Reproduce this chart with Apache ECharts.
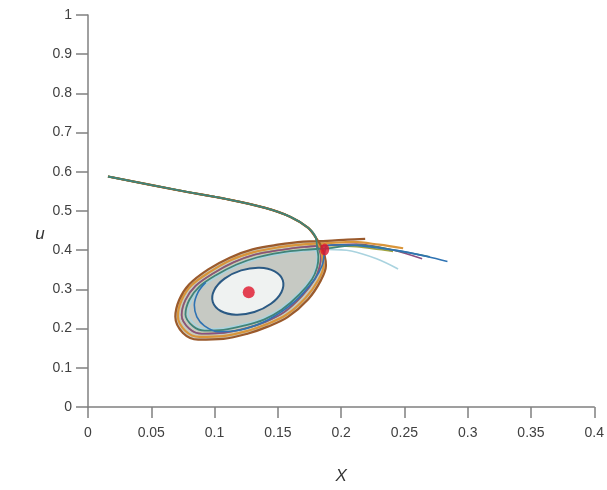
<!DOCTYPE html>
<html>
<head>
<meta charset="utf-8">
<script src="https://cdn.jsdelivr.net/npm/echarts@6/dist/echarts.min.js"></script>
<style>html,body{margin:0;padding:0;background:#fff}#c{width:607px;height:490px}</style>
</head>
<body>
<div id="c"></div>
<script>
// ---- Data ----
const xTicks = [0, 0.05, 0.1, 0.15, 0.2, 0.25, 0.3, 0.35, 0.4];
const yTicks = [0, 0.1, 0.2, 0.3, 0.4, 0.5, 0.6, 0.7, 0.8, 0.9, 1];
const xName = 'X';
const yName = 'u';

// common incoming branch (from upper left toward the saddle)
const approach = [[0.0158,0.588],[0.071,0.553],[0.110,0.530],[0.140,0.508],[0.160,0.485],[0.174,0.457],[0.180,0.432]];

// loops around the region (outer to inner)
const loop0 = [[0.184,0.412],[0.187,0.386],[0.188,0.361],[0.184,0.323],[0.174,0.275],[0.158,0.230],[0.142,0.205],[0.126,0.187],[0.107,0.174],[0.087,0.172],[0.075,0.189],[0.069,0.230],[0.072,0.273],[0.080,0.313],[0.095,0.351],[0.112,0.381],[0.130,0.402],[0.150,0.414],[0.170,0.422],[0.189,0.424]];
const loop1 = [[0.183,0.410],[0.185,0.385],[0.186,0.360],[0.182,0.324],[0.172,0.279],[0.157,0.236],[0.141,0.211],[0.126,0.194],[0.107,0.181],[0.088,0.179],[0.077,0.194],[0.071,0.232],[0.074,0.273],[0.082,0.311],[0.097,0.346],[0.113,0.375],[0.131,0.395],[0.150,0.407],[0.170,0.415],[0.189,0.418]];
const loop2 = [[0.182,0.408],[0.184,0.384],[0.183,0.358],[0.179,0.325],[0.169,0.283],[0.155,0.242],[0.140,0.217],[0.125,0.201],[0.107,0.189],[0.090,0.187],[0.080,0.200],[0.074,0.234],[0.077,0.273],[0.085,0.309],[0.099,0.341],[0.115,0.369],[0.132,0.389],[0.151,0.400],[0.170,0.408],[0.189,0.412]];
const loop3 = [[0.181,0.406],[0.182,0.383],[0.181,0.356],[0.177,0.326],[0.167,0.287],[0.153,0.248],[0.139,0.223],[0.124,0.208],[0.107,0.197],[0.092,0.195],[0.083,0.206],[0.077,0.236],[0.080,0.273],[0.088,0.307],[0.101,0.336],[0.117,0.363],[0.134,0.382],[0.152,0.394],[0.171,0.401],[0.189,0.405]];
const loop4 = [[0.180,0.404],[0.181,0.382],[0.180,0.355],[0.176,0.327],[0.166,0.289],[0.152,0.251],[0.138,0.226],[0.124,0.212],[0.107,0.201],[0.093,0.199],[0.085,0.209],[0.079,0.237],[0.082,0.273],[0.090,0.306],[0.102,0.333],[0.118,0.360],[0.135,0.379],[0.153,0.391],[0.171,0.398],[0.189,0.402]];

// outgoing ends (to the right of the saddle)
const exitBrown  = [[0.205,0.427],[0.219,0.429]];
const exitOrange = [[0.210,0.421],[0.230,0.414],[0.249,0.405]];
const exitPurple = [[0.212,0.416],[0.240,0.401],[0.264,0.378]];
const exitTeal   = [[0.213,0.413],[0.245,0.398],[0.270,0.383]];
const exitOlive  = [[0.212,0.409],[0.230,0.402],[0.241,0.397]];
const exitLight  = [[0.208,0.398],[0.228,0.378],[0.245,0.352]];

// inner spiral (blue) that leaves through the saddle
const blueSpiral = [[0.093,0.318],[0.087,0.293],[0.084,0.260],[0.086,0.230],[0.092,0.207],[0.103,0.192],[0.121,0.197],[0.142,0.222],[0.163,0.268],[0.179,0.326],[0.185,0.361],[0.187,0.394],[0.189,0.412],[0.201,0.414],[0.221,0.409],[0.245,0.399],[0.268,0.384],[0.284,0.371]];

// dark blue closed orbit around the centre
const innerOrbit = [[0.1539,0.3232],[0.1475,0.3460],[0.1356,0.3553],[0.1210,0.3485],[0.1079,0.3275],[0.0997,0.2980],[0.0986,0.2677],[0.1049,0.2449],[0.1169,0.2356],[0.1314,0.2424],[0.1445,0.2634],[0.1528,0.2929]];

// equilibria
const centrePoint = [[0.127,0.293]];
const saddlePoint = [[0.187,0.402]];

// ---- chart ----
const axisColor = '#808080';
const fontFam = 'Liberation Sans, Arial, sans-serif';
const labelStyle = {color:'#404040', fontSize:14, fontFamily:fontFam};

function polygonSeries(pts, fill, stroke, lw, z) {
  return {
    type:'custom', z:z, silent:true, data:[[0.1,0.3]],
    renderItem:function(params, api){
      return {type:'polygon', shape:{points: pts.map(p=>api.coord(p)), smooth:0.4},
        style:{fill:fill, stroke:stroke || null, lineWidth: lw || 0}};
    }
  };
}
function traj(data, color, width, z) {
  return {type:'line', data:data, showSymbol:false, smooth:0.35, z:z||3, silent:true,
    lineStyle:{color:color, width:width||1.4}};
}

const chart = echarts.init(document.getElementById('c'), null, {renderer:'canvas'});
chart.setOption({
  animation:false,
  backgroundColor:'#ffffff',
  grid:{left:88, right:11, top:15, bottom:78},
  graphic:[{type:'text', x:40, y:234, style:{text:yName, fontStyle:'italic', fontSize:17, fill:'#333', fontFamily:fontFam, align:'center', verticalAlign:'middle'}}],
  xAxis:{type:'value', min:xTicks[0], max:xTicks[xTicks.length-1], interval:0.05,
    name:xName, nameLocation:'middle', nameGap:61,
    nameTextStyle:{fontStyle:'italic', fontSize:17, color:'#333', fontFamily:fontFam},
    axisLine:{lineStyle:{color:axisColor, width:1.5}},
    axisTick:{length:11, lineStyle:{color:axisColor, width:1.5}},
    axisLabel:{...labelStyle, margin:19, formatter:v=>String(+v.toFixed(2))},
    splitLine:{show:false}},
  yAxis:{type:'value', min:yTicks[0], max:yTicks[yTicks.length-1], interval:0.1,
    axisLine:{show:true, lineStyle:{color:axisColor, width:1.5}},
    axisTick:{show:true, length:12, lineStyle:{color:axisColor, width:1.5}},
    axisLabel:{...labelStyle, margin:16, formatter:v=>String(+v.toFixed(1))},
    splitLine:{show:false}},
  series:[
    polygonSeries(loop0, '#c6c9c3', null, 0, 1),
    polygonSeries(innerOrbit, '#eff2f1', '#2b5a84', 2, 4),
    traj(approach.concat(loop4, exitLight), '#a9d3df', 1.6, 3),
    traj(approach.concat(loop2, exitOlive), '#a0a33f', 1.8, 3),
    traj(approach.concat(loop2, exitPurple), '#8a4f82', 1.6, 3),
    traj(approach.concat(loop1, exitOrange), '#d9953a', 2.2, 3),
    traj(approach.concat(loop0, exitBrown), '#9b5a2c', 2.2, 3),
    traj(approach.concat(loop3, exitTeal), '#3f8479', 1.8, 3),
    traj(blueSpiral, '#2f73b3', 1.6, 4),
    {type:'scatter', data:centrePoint, symbolSize:12, z:6, itemStyle:{color:'#e0142a'}},
    {type:'scatter', data:saddlePoint, symbolSize:[9,12], z:6, itemStyle:{color:'#e0142a'}}
  ]
});
</script>
</body>
</html>
